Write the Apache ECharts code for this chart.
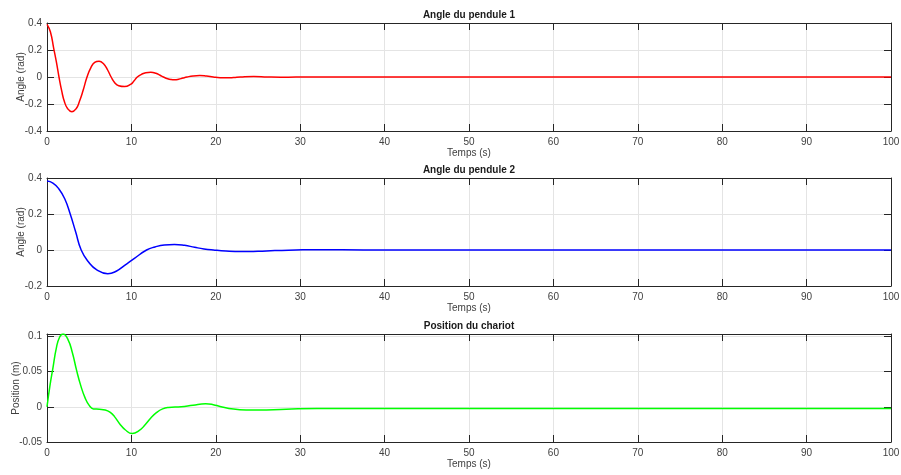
<!DOCTYPE html>
<html>
<head>
<meta charset="utf-8">
<script src="https://cdn.jsdelivr.net/npm/echarts@6/dist/echarts.min.js"></script>
<style>
  html, body { margin: 0; padding: 0; background: #ffffff; }
  #chart { width: 901px; height: 475px; }
</style>
</head>
<body>
<div id="chart"></div>
<script>
// Angle of pendulum 1 (rad) against time (s)
const timePendule1 = [0, 0.4, 0.8, 1.1, 1.42, 1.75, 2.05, 2.45, 2.95, 3.45, 3.85, 4.3, 4.74, 5.2, 5.65, 6.17, 6.7, 7.2, 7.6, 8.0, 8.5, 9.2, 9.9, 10.3, 10.7, 11.2, 11.7, 12.3, 12.9, 13.4, 13.8, 14.3, 14.7, 15.1, 15.6, 16.1, 16.6, 17.3, 18.1, 18.9, 19.7, 20.5, 21.3, 22.1, 22.9, 24.5, 26.1, 27.7, 29.5, 35, 45, 60, 80, 100];
const anglePendule1 = [0.390, 0.335, 0.210, 0.115, 0.000, -0.105, -0.180, -0.235, -0.257, -0.235, -0.180, -0.095, 0.000, 0.070, 0.108, 0.117, 0.098, 0.050, 0.000, -0.040, -0.065, -0.071, -0.055, -0.030, 0.000, 0.020, 0.032, 0.035, 0.028, 0.013, 0.000, -0.013, -0.019, -0.021, -0.017, -0.008, 0.000, 0.008, 0.011, 0.007, 0.000, -0.005, -0.006, -0.004, 0.000, 0.004, 0.000, -0.002, 0.000, 0, 0, 0, 0, 0];

// Angle of pendulum 2 (rad) against time (s)
const timePendule2 = [0, 0.7, 1.4, 2.1, 2.75, 3.4, 4.05, 4.9, 5.9, 7.2, 8.2, 9.2, 10.4, 11.8, 12.8, 13.9, 15.1, 16.3, 17.5, 18.6, 19.7, 21.2, 23.0, 25.0, 27.0, 29.5, 31.5, 35, 40, 60, 80, 100];
const anglePendule2 = [0.383, 0.372, 0.340, 0.285, 0.200, 0.100, 0.000, -0.065, -0.110, -0.132, -0.118, -0.085, -0.045, 0.000, 0.017, 0.028, 0.031, 0.026, 0.015, 0.006, 0.000, -0.006, -0.009, -0.007, -0.003, 0.000, 0.002, 0.001, 0, 0, 0, 0];

// Cart position (m) against time (s)
const timeChariot = [0, 0.35, 0.7, 1.1, 1.5, 1.9, 2.5, 3.0, 3.5, 4.0, 4.5, 5.0, 5.5, 6.2, 6.9, 7.5, 8.0, 8.6, 9.3, 10.1, 10.9, 11.6, 12.3, 13.0, 13.7, 14.4, 15.9, 17.3, 18.8, 19.7, 20.5, 22.1, 23.6, 26.0, 29.0, 32.0, 40, 60, 80, 100];
const positionChariot = [0, 0.030, 0.055, 0.083, 0.099, 0.1032, 0.095, 0.077, 0.052, 0.030, 0.013, 0.002, -0.003, -0.0035, -0.0045, -0.008, -0.014, -0.024, -0.033, -0.038, -0.034, -0.026, -0.016, -0.008, -0.003, -0.001, 0.000, 0.0023, 0.0042, 0.003, 0.0005, -0.0033, -0.0045, -0.0045, -0.0032, -0.0026, -0.0026, -0.0026, -0.0026, -0.0026];

// Tick labels
const xTicks = [0, 10, 20, 30, 40, 50, 60, 70, 80, 90, 100];
const yTicksPendule1 = [-0.4, -0.2, 0, 0.2, 0.4];
const yTicksPendule2 = [-0.2, 0, 0.2, 0.4];
const yTicksChariot = [-0.05, 0, 0.05, 0.1];

const panels = [
  { title: 'Angle du pendule 1', yName: 'Angle (rad)', t: timePendule1, v: anglePendule1, color: '#ff0000',
    yMin: -0.4, yMax: 0.4, yStep: 0.2, yTicks: yTicksPendule1, top: 23, nameGap: 21 },
  { title: 'Angle du pendule 2', yName: 'Angle (rad)', t: timePendule2, v: anglePendule2, color: '#0000ff',
    yMin: -0.2, yMax: 0.4, yStep: 0.2, yTicks: yTicksPendule2, top: 178, nameGap: 21 },
  { title: 'Position du chariot', yName: 'Position (m)', t: timeChariot, v: positionChariot, color: '#00ff00',
    yMin: -0.05, yMax: 0.1033, yStep: 0.05, yTicks: yTicksChariot, top: 334, nameGap: 26 }
];

const FONT = '"Liberation Sans", Arial, Helvetica, sans-serif';
const AXIS_COLOR = '#262626';
const LABEL_COLOR = '#404040';
const GRID_COLOR = '#e4e4e4';

const grid = [], xAxis = [], yAxis = [], series = [];

panels.forEach((p, i) => {
  grid.push({ left: 47, top: p.top, width: 844, height: 108, containLabel: false, outerBoundsMode: 'none' });

  // bottom axis: labels, grid lines, inner ticks
  xAxis.push({
    gridIndex: i, type: 'value', position: 'bottom', min: 0, max: 100, interval: 10,
    name: 'Temps (s)', nameLocation: 'middle', nameGap: 17, nameMoveOverlap: false,
    nameTextStyle: { fontFamily: FONT, fontSize: 10, color: LABEL_COLOR },
    axisLine: { show: true, onZero: false, lineStyle: { color: AXIS_COLOR, width: 1 } },
    axisTick: { show: true, inside: true, length: 7, customValues: xTicks, lineStyle: { color: AXIS_COLOR } },
    axisLabel: { customValues: xTicks, margin: 6, fontFamily: FONT, fontSize: 10, color: LABEL_COLOR },
    splitLine: { show: true, lineStyle: { color: GRID_COLOR, width: 1 } }
  });
  // top axis: frame edge, mirrored ticks, panel title
  xAxis.push({
    gridIndex: i, type: 'value', position: 'top', min: 0, max: 100, interval: 10,
    name: p.title, nameLocation: 'middle', nameGap: 3, nameMoveOverlap: false,
    nameTextStyle: { fontFamily: FONT, fontSize: 10, fontWeight: 'bold', color: '#1a1a1a' },
    axisLine: { show: true, onZero: false, lineStyle: { color: AXIS_COLOR, width: 1 } },
    axisTick: { show: true, inside: true, length: 7, customValues: xTicks, lineStyle: { color: AXIS_COLOR } },
    axisLabel: { show: false },
    splitLine: { show: false }
  });
  // left axis: labels, grid lines, inner ticks, name
  yAxis.push({
    gridIndex: i, type: 'value', position: 'left', min: p.yMin, max: p.yMax, interval: p.yStep,
    name: p.yName, nameLocation: 'middle', nameGap: p.nameGap, nameRotate: 90, nameMoveOverlap: false,
    nameTextStyle: { fontFamily: FONT, fontSize: 10, color: LABEL_COLOR },
    axisLine: { show: true, onZero: false, lineStyle: { color: AXIS_COLOR, width: 1 } },
    axisTick: { show: true, inside: true, length: 7, customValues: p.yTicks, lineStyle: { color: AXIS_COLOR } },
    axisLabel: { customValues: p.yTicks, margin: 5, fontFamily: FONT, fontSize: 10, color: LABEL_COLOR,
                 formatter: v => String(+v.toFixed(4)) },
    splitLine: { show: true, lineStyle: { color: GRID_COLOR, width: 1 } }
  });
  // right axis: frame edge and mirrored ticks
  yAxis.push({
    gridIndex: i, type: 'value', position: 'right', min: p.yMin, max: p.yMax, interval: p.yStep,
    axisLine: { show: true, onZero: false, lineStyle: { color: AXIS_COLOR, width: 1 } },
    axisTick: { show: true, inside: true, length: 7, customValues: p.yTicks, lineStyle: { color: AXIS_COLOR } },
    axisLabel: { show: false },
    splitLine: { show: false }
  });

  series.push({
    type: 'line',
    xAxisIndex: 2 * i, yAxisIndex: 2 * i,
    data: p.t.map((t, k) => [t, p.v[k]]),
    showSymbol: false, symbol: 'none',
    smooth: 0.5,
    lineStyle: { color: p.color, width: 1.5 },
    z: 3
  });
});

const chart = echarts.init(document.getElementById('chart'), null, { renderer: 'canvas' });
chart.setOption({
  backgroundColor: '#ffffff',
  animation: false,
  grid, xAxis, yAxis, series
});
</script>
</body>
</html>
